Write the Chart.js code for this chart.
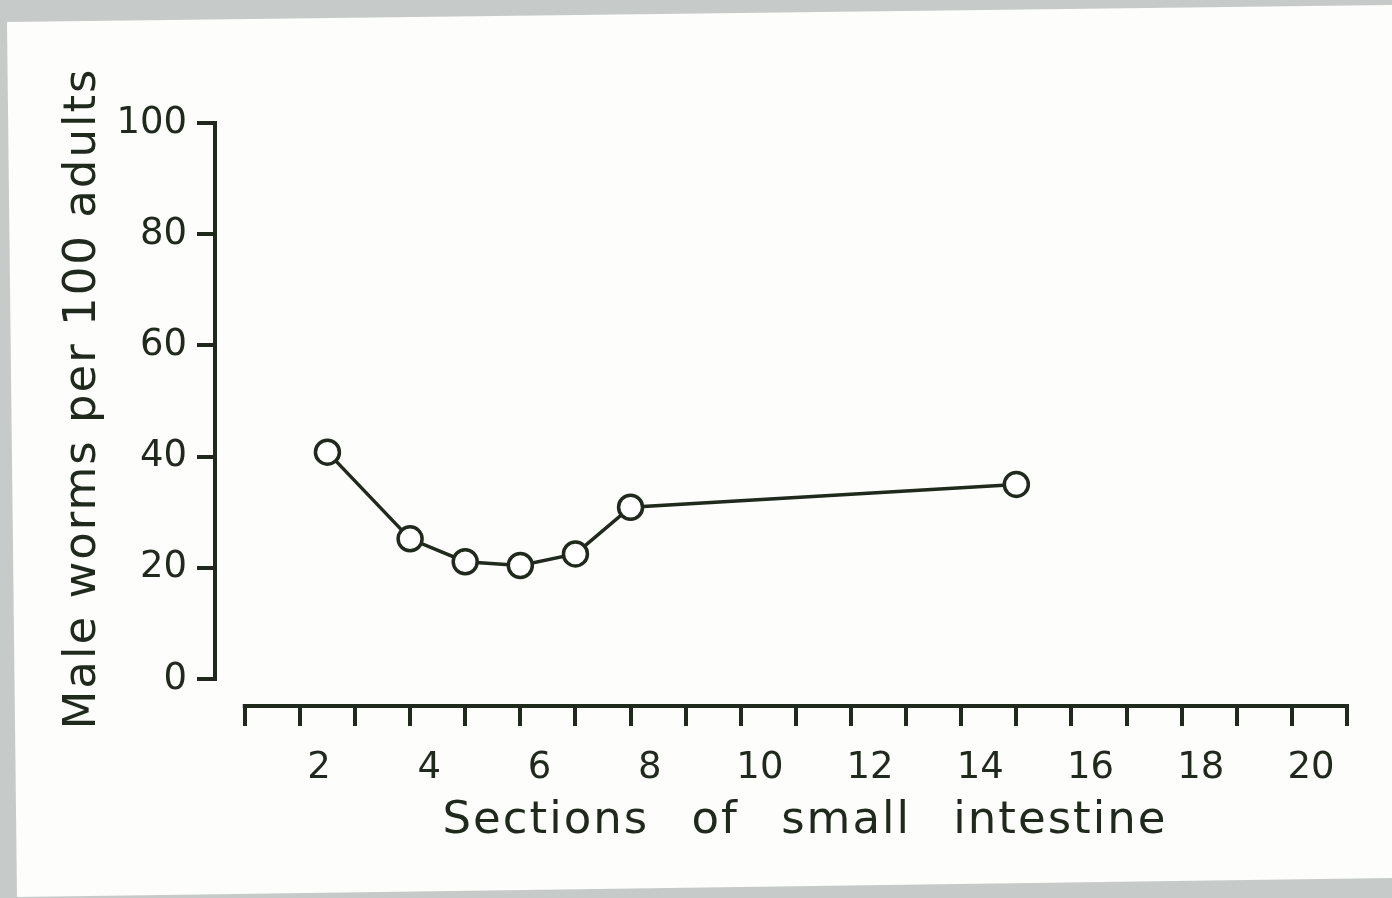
<!DOCTYPE html>
<html>
<head>
<meta charset="utf-8">
<script src="https://cdn.jsdelivr.net/npm/chart.js@4.4.1/dist/chart.umd.min.js"></script>
<style>
  html, body { margin: 0; padding: 0; background: #c6cbca; overflow: hidden; }
  #wrap { width: 1392px; height: 898px; position: relative; }
</style>
</head>
<body>
<div id="wrap"><canvas id="chart"></canvas></div>
<script>
// values (x in tick units along the section axis)
const sections = [1.5, 3, 4, 5, 6, 7, 14];
const maleWorms = [40.8, 25.2, 21.1, 20.4, 22.5, 30.9, 35.0];

const xTickValues = [0, 1, 2, 3, 4, 5, 6, 7, 8, 9, 10, 11, 12, 13, 14, 15, 16, 17, 18, 19, 20];
const xTickLabels = [2, 4, 6, 8, 10, 12, 14, 16, 18, 20];
const yTickValues = [0, 20, 40, 60, 80, 100];

const ink = '#1f2a1c';
const fontFamily = '"DejaVu Sans", "Noto Sans", sans-serif';

// grey photo border with the white print on top
const paper = {
  id: 'paper',
  beforeDraw(chart) {
    const ctx = chart.ctx;
    ctx.save();
    ctx.fillStyle = '#c6cbca';
    ctx.fillRect(0, 0, chart.width, chart.height);
    ctx.fillStyle = '#fdfdfb';
    ctx.beginPath();
    ctx.moveTo(7, 22);
    ctx.lineTo(chart.width, 5);
    ctx.lineTo(chart.width, 878);
    ctx.lineTo(17, 897);
    ctx.closePath();
    ctx.fill();
    ctx.restore();
  }
};

// hand lettering is spaced out a lot wider than the font, and sits a bit off centre
const titleSpacing = {
  x: { letter: '2px', word: '26px', dx: 24, dy: 0 },
  y: { letter: '2px', word: '0px', dx: 0, dy: -16 }
};
const spacedTitles = {
  id: 'spacedTitles',
  beforeDraw(chart) {
    Object.keys(titleSpacing).forEach(id => {
      const scale = chart.scales[id];
      if (scale._spaced) return;
      const orig = scale.drawTitle;
      const sp = titleSpacing[id];
      scale.drawTitle = function () {
        const ctx = this.ctx;
        ctx.save();
        ctx.letterSpacing = sp.letter;
        ctx.wordSpacing = sp.word;
        ctx.translate(sp.dx, sp.dy);
        orig.call(this);
        ctx.restore();
      };
      scale._spaced = true;
    });
  }
};

// the axis lines only run over the labelled range, so draw them from the scales
const axisLines = {
  id: 'axisLines',
  beforeDatasetsDraw(chart) {
    const { x, y } = chart.scales;
    const area = chart.chartArea;
    const ctx = chart.ctx;
    ctx.save();
    ctx.strokeStyle = ink;
    ctx.lineWidth = 4;
    ctx.lineCap = 'square';
    ctx.beginPath();
    ctx.moveTo(area.left, y.getPixelForValue(yTickValues[0]));
    ctx.lineTo(area.left, y.getPixelForValue(yTickValues[yTickValues.length - 1]));
    ctx.moveTo(x.getPixelForValue(xTickValues[0]), area.bottom);
    ctx.lineTo(x.getPixelForValue(xTickValues[xTickValues.length - 1]), area.bottom);
    ctx.stroke();
    ctx.restore();
  }
};

new Chart(document.getElementById('chart'), {
  type: 'line',
  data: {
    datasets: [{
      data: sections.map((s, i) => ({ x: s, y: maleWorms[i] })),
      borderColor: ink,
      borderWidth: 3.5,
      pointRadius: 12,
      pointBorderWidth: 3.5,
      pointBackgroundColor: '#ffffff',
      pointBorderColor: ink,
      tension: 0
    }]
  },
  options: {
    responsive: true,
    maintainAspectRatio: false,
    animation: false,
    layout: { padding: { left: 56, top: 123, right: 45, bottom: 50 } },
    plugins: { legend: { display: false }, tooltip: { enabled: false } },
    scales: {
      x: {
        type: 'linear',
        min: -0.54,
        max: 20,
        afterBuildTicks: s => { s.ticks = xTickValues.map(v => ({ value: v })); },
        afterFit: s => { s.height = 142; },
        border: { display: false },
        grid: { drawOnChartArea: false, tickLength: 20, lineWidth: 4, color: ink },
        ticks: {
          color: ink,
          font: { family: fontFamily, size: 37 },
          padding: 20,
          labelOffset: -36,
          maxRotation: 0,
          autoSkip: false,
          callback: v => xTickLabels.includes(v) ? String(v) : ''
        },
        title: {
          display: true,
          text: 'Sections of small intestine',
          color: ink,
          font: { family: fontFamily, size: 45 },
          padding: 0
        }
      },
      y: {
        type: 'linear',
        min: -4.86,
        max: 100,
        afterBuildTicks: s => { s.ticks = yTickValues.map(v => ({ value: v })); },
        afterFit: s => { s.width = 159; },
        border: { display: false },
        grid: { drawOnChartArea: false, tickLength: 18, lineWidth: 4, color: ink },
        ticks: {
          color: ink,
          font: { family: fontFamily, size: 37 },
          padding: 10
        },
        title: {
          display: true,
          text: 'Male worms per 100 adults',
          color: ink,
          font: { family: fontFamily, size: 45 },
          padding: 0
        }
      }
    }
  },
  plugins: [paper, spacedTitles, axisLines]
});
</script>
</body>
</html>
